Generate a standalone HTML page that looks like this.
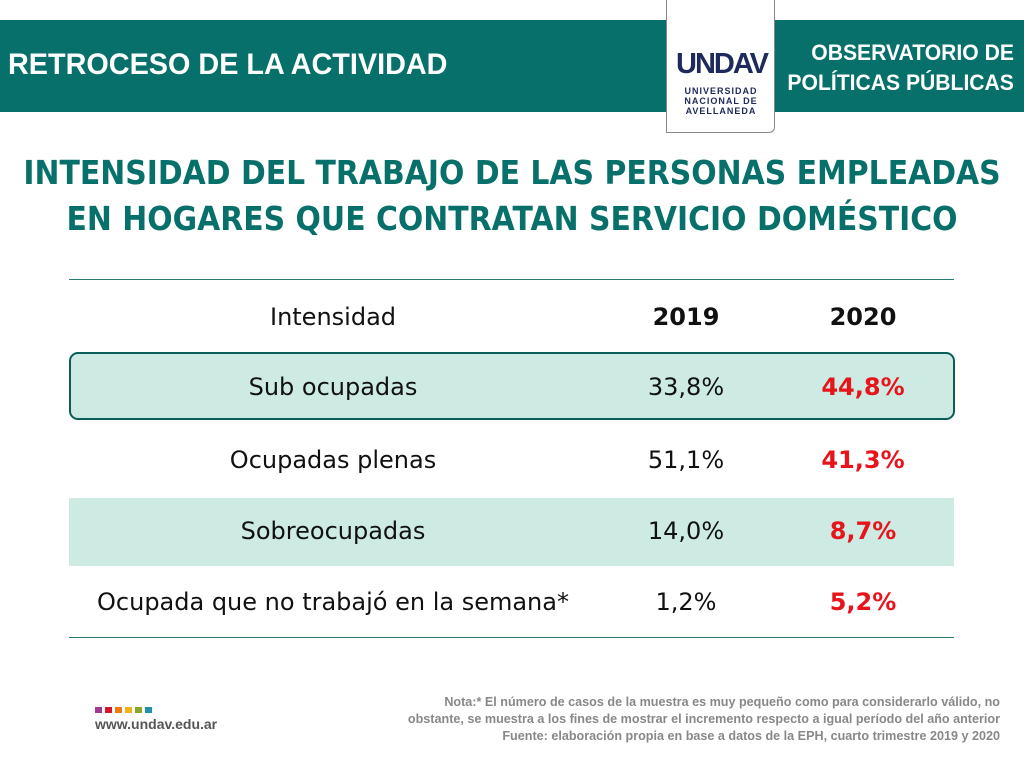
<!DOCTYPE html><html><head><style>
body{margin:0;width:1024px;height:768px;background:#fff;position:relative;overflow:hidden;font-family:"DejaVu Sans","Liberation Sans",sans-serif}
.a{position:absolute}
.band{left:0;top:20px;width:1024px;height:92px;background:#07706a}
.c{position:absolute;text-align:center;font-size:24px;color:#111}
</style></head><body>
<div class="a band"></div>
<div class="a" style="left:8px;top:48px;color:#fff;font:bold 30px 'Liberation Sans',sans-serif;transform:scaleX(0.96);transform-origin:left;white-space:nowrap">RETROCESO DE LA ACTIVIDAD</div>
<div class="a" style="right:10px;top:38px;color:#fff;font:bold 22px/30px 'Liberation Sans',sans-serif;text-align:right;transform:scaleX(0.96);transform-origin:right;white-space:nowrap">OBSERVATORIO DE<br>POLÍTICAS PÚBLICAS</div>
<div class="a" style="left:666px;top:-2px;width:107px;height:134px;background:#fff;border:1px solid #888;border-top:none;border-radius:0 0 6px 0"></div>
<div class="a" style="left:676px;top:48px;width:90px;text-align:center;color:#1d2a5b;font:bold 29px/32px 'Liberation Sans',sans-serif;letter-spacing:-2px">UNDAV</div>
<div class="a" style="left:676px;top:86px;width:90px;text-align:center;color:#1d2a5b;font:bold 9px/10px 'Liberation Sans',sans-serif;letter-spacing:1px">UNIVERSIDAD<br>NACIONAL DE<br>AVELLANEDA</div>
<div class="a" style="left:-200px;top:150px;width:1424px;text-align:center;color:#07706a;font:bold 33px/46px 'DejaVu Sans',sans-serif;transform:scaleX(0.905);white-space:nowrap">INTENSIDAD DEL TRABAJO DE LAS PERSONAS EMPLEADAS<br>EN HOGARES QUE CONTRATAN SERVICIO DOMÉSTICO</div>
<div class="a" style="left:69px;top:279px;width:885px;height:1px;background:#2a7a72"></div>
<div class="a" style="left:69px;top:637px;width:885px;height:1px;background:#2a7a72"></div>
<div class="a" style="left:69px;top:352px;width:882px;height:64px;background:#cdeae3;border:2px solid #0b5e58;border-radius:9px"></div>
<div class="a" style="left:69px;top:498px;width:885px;height:68px;background:#cdeae3"></div>
<div class="c" style="left:133px;width:400px;top:303px">Intensidad</div>
<div class="c" style="left:606px;width:160px;top:303px;font-weight:bold">2019</div>
<div class="c" style="left:783px;width:160px;top:303px;font-weight:bold">2020</div>
<div class="c" style="left:133px;width:400px;top:373px">Sub ocupadas</div>
<div class="c" style="left:606px;width:160px;top:373px">33,8%</div>
<div class="c" style="left:783px;width:160px;top:373px;font-weight:bold;color:#e8141c">44,8%</div>
<div class="c" style="left:133px;width:400px;top:446px">Ocupadas plenas</div>
<div class="c" style="left:606px;width:160px;top:446px">51,1%</div>
<div class="c" style="left:783px;width:160px;top:446px;font-weight:bold;color:#e8141c">41,3%</div>
<div class="c" style="left:133px;width:400px;top:517px">Sobreocupadas</div>
<div class="c" style="left:606px;width:160px;top:517px">14,0%</div>
<div class="c" style="left:783px;width:160px;top:517px;font-weight:bold;color:#e8141c">8,7%</div>
<div class="c" style="left:33px;width:600px;top:588px">Ocupada que no trabajó en la semana*</div>
<div class="c" style="left:606px;width:160px;top:588px">1,2%</div>
<div class="c" style="left:783px;width:160px;top:588px;font-weight:bold;color:#e8141c">5,2%</div>
<div class="a" style="left:95px;top:707px;display:flex;gap:3px">
<i style="width:7px;height:6px;background:#a23a8f"></i><i style="width:7px;height:6px;background:#d9142b"></i><i style="width:7px;height:6px;background:#ee7a10"></i><i style="width:7px;height:6px;background:#f1b316"></i><i style="width:7px;height:6px;background:#8aa52a"></i><i style="width:7px;height:6px;background:#1f93a8"></i></div>
<div class="a" style="left:95px;top:716px;color:#555;font:bold 14px 'Liberation Sans',sans-serif">www.undav.edu.ar</div>
<div class="a" style="right:24px;top:694px;text-align:right;color:#888;font:bold 12.6px/17px 'Liberation Sans',sans-serif;white-space:nowrap">Nota:* El número de casos de la muestra es muy pequeño como para considerarlo válido, no<br>obstante, se muestra a los fines de mostrar el incremento respecto a igual período del año anterior<br>Fuente: elaboración propia en base a datos de la EPH, cuarto trimestre 2019 y 2020</div>
</body></html>
